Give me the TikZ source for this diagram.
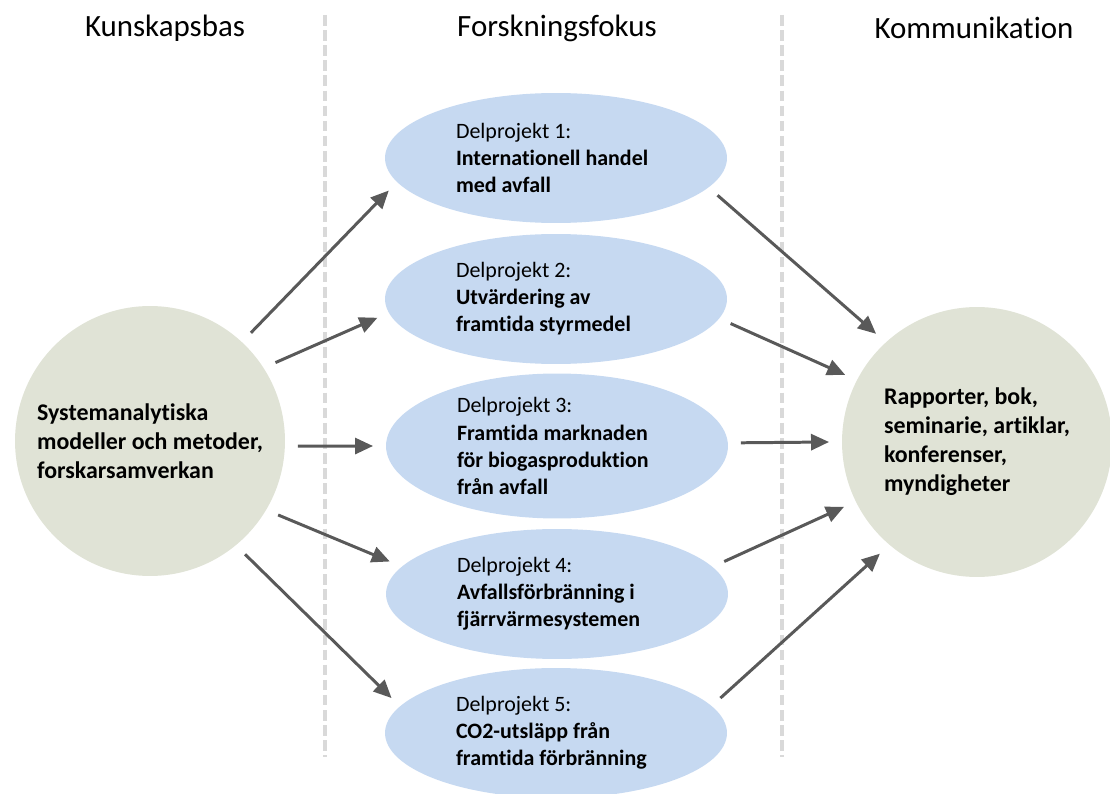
\documentclass[tikz,border=0pt]{standalone}
\usepackage{fontspec}
\setmainfont[Ligatures=NoCommon]{Carlito}
\usetikzlibrary{arrows.meta,shapes.geometric}
\definecolor{kfBlue} {RGB}{198,217,241}
\definecolor{kfSage} {RGB}{224,227,214}
\definecolor{kfArrow}{RGB}{ 89, 89, 89}
\definecolor{kfDash} {RGB}{217,217,217}

\begin{document}
\begin{tikzpicture}[x=0.02cm,y=-0.02cm,
  every node/.style={font=\fontsize{12.5}{15.4}\selectfont},
  head/.style={font=\fontsize{17.6}{21}\selectfont},
  base/.style={circle,fill=kfSage,minimum size=5.4cm,inner sep=0pt,
               outer sep=0.26cm,align=left,
               font=\fontsize{13.6}{16.5}\selectfont\bfseries},
  proj/.style={ellipse,fill=kfBlue,minimum width=6.84cm,minimum height=2.6cm,
               inner sep=0pt,outer sep=0.26cm,text width=4cm,align=flush left},
  link/.style={-{Triangle[length=0.36cm,width=0.32cm]},line width=1.7pt,kfArrow},
  divider/.style={kfDash,line width=1.8pt,dash pattern=on 6pt off 2.6pt}
]
\useasboundingbox (0,0) rectangle (1110,794);

\draw[divider] (325,15) -- (325,757);
\draw[divider] (782,15) -- (782,757);

\node[head] (T1) at (165,28) {Kunskapsbas};
\node[head] (T2) at (557,28) {Forskningsfokus};
\node[head] (T3) at (974,28) {Kommunikation};

\node[base] (Bas) at (150,441)
  {Systemanalytiska\\modeller och metoder,\\forskarsamverkan};
\node[base] (Kom) at (977,442)
  {Rapporter, bok,\\seminarie, artiklar,\\konferenser,\\myndigheter};

\node[proj] (D1) at (556,158)
  {Delprojekt 1:\\\textbf{Internationell handel}\\\textbf{med avfall}};
\node[proj] (D2) at (556,299)
  {Delprojekt 2:\\\textbf{Utvärdering av}\\\textbf{framtida styrmedel}};
\node[proj,minimum height=2.9cm] (D3) at (557,446)
  {Delprojekt 3:\\\textbf{Framtida marknaden}\\\textbf{för biogasproduktion}\\\textbf{från avfall}};
\node[proj] (D4) at (557,594)
  {Delprojekt 4:\\\textbf{Avfallsförbränning i}\\\textbf{fjärrvärmesystemen}};
\node[proj] (D5) at (556,733)
  {Delprojekt 5:\\\textbf{CO2-utsläpp från}\\\textbf{framtida förbränning}};

\draw[link] (Bas.47.5) -- (D1.191);
\draw[link] (Bas.32)   -- (D2.186);
\draw[link] (Bas.-2)   -- (D3.180);
\draw[link] (Bas.-30)  -- (D4.169);
\draw[link] (Bas.-50)  -- (D5.168);

\draw[link] (D1.-13) -- (Kom.133);
\draw[link] (D2.-8)  -- (Kom.153);
\draw[link] (D3.1)   -- (Kom.180);
\draw[link] (D4.11)  -- (Kom.206);
\draw[link] (D5.12)  -- (Kom.229);
\end{tikzpicture}
\end{document}
